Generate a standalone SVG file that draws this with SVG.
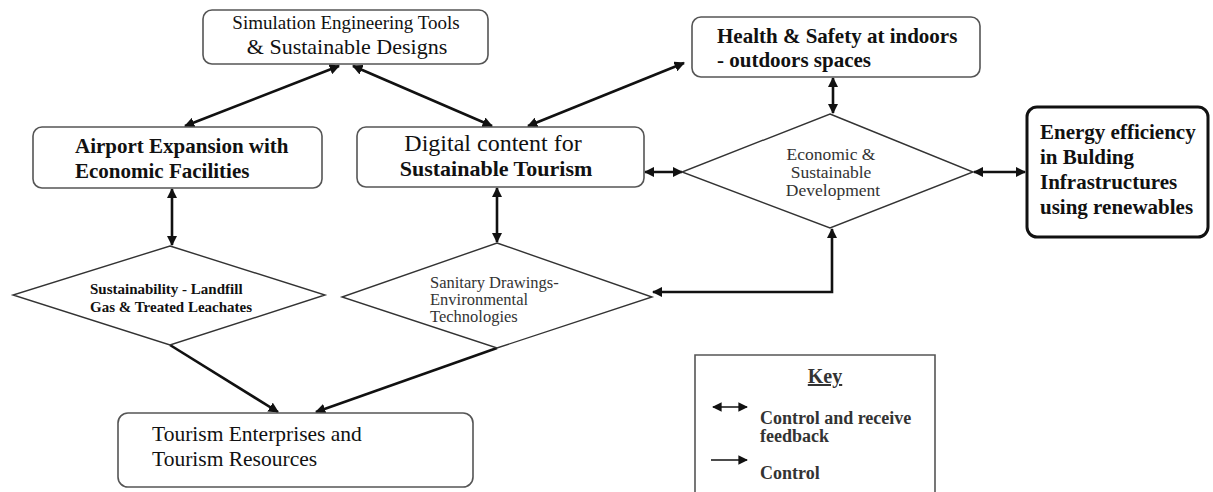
<svg xmlns="http://www.w3.org/2000/svg" width="1213" height="492" viewBox="0 0 1213 492">
<style>
.box{fill:#fff;stroke:#555;stroke-width:1.6}
.thick{fill:#fff;stroke:#111;stroke-width:3}
.dia{fill:#fff;stroke:#333;stroke-width:1.4}
.t{font-family:"Liberation Serif","Times New Roman",serif;fill:#111}
.b{font-weight:bold}
.g{fill:#333}
.c{fill:none;stroke:#111;stroke-width:2.6}
.k{fill:none;stroke:#111;stroke-width:1.6}
</style>
<defs>
<marker id="ah" viewBox="0 0 10 10" refX="9" refY="5" markerWidth="4" markerHeight="4" orient="auto-start-reverse" markerUnits="strokeWidth">
<path d="M0,0 L10,5 L0,10 z" fill="#111"/>
</marker>
<marker id="ahk" viewBox="0 0 10 10" refX="9" refY="5" markerWidth="6" markerHeight="6" orient="auto-start-reverse" markerUnits="strokeWidth">
<path d="M0,0 L10,5 L0,10 z" fill="#111"/>
</marker>
</defs>
<rect width="1213" height="492" fill="#fff"/>
<g id="connectors">
<line class="c" x1="339" y1="66" x2="185" y2="126" marker-start="url(#ah)" marker-end="url(#ah)"/>
<line class="c" x1="353" y1="66" x2="492" y2="126" marker-start="url(#ah)" marker-end="url(#ah)"/>
<line class="c" x1="528" y1="126" x2="684" y2="63" marker-start="url(#ah)" marker-end="url(#ah)"/>
<line class="c" x1="833" y1="78" x2="833" y2="113" marker-start="url(#ah)" marker-end="url(#ah)"/>
<line class="c" x1="172" y1="189" x2="172" y2="245" marker-start="url(#ah)" marker-end="url(#ah)"/>
<line class="c" x1="497" y1="188" x2="497" y2="242" marker-start="url(#ah)" marker-end="url(#ah)"/>
<line class="c" x1="645" y1="172" x2="682" y2="172" marker-start="url(#ah)" marker-end="url(#ah)"/>
<line class="c" x1="974" y1="172" x2="1025" y2="172" marker-start="url(#ah)" marker-end="url(#ah)"/>
<polyline class="c" points="832,229 832,292 653,292" marker-start="url(#ah)" marker-end="url(#ah)"/>
<line class="c" x1="170" y1="345" x2="278" y2="412" marker-end="url(#ah)"/>
<line class="c" x1="497" y1="348" x2="316" y2="412" marker-end="url(#ah)"/>
</g>
<g id="simulation">
<rect class="box" x="203" y="10" width="285" height="54" rx="9"/>
<text class="t" x="346" y="29" font-size="19" text-anchor="middle">Simulation Engineering Tools</text>
<text class="t" x="347" y="54" font-size="22" text-anchor="middle">&amp; Sustainable Designs</text>
</g>
<g id="health">
<rect class="box" x="692" y="17" width="288" height="60" rx="9"/>
<text class="t b" x="717" y="43" font-size="21">Health &amp; Safety at indoors</text>
<text class="t b" x="717" y="67" font-size="21">- outdoors spaces</text>
</g>
<g id="airport">
<rect class="box" x="33" y="127" width="289" height="61" rx="9"/>
<text class="t b" x="75" y="153" font-size="21">Airport Expansion with</text>
<text class="t b" x="75" y="178" font-size="21">Economic Facilities</text>
</g>
<g id="digital">
<rect class="box" x="357" y="127" width="287" height="60" rx="9"/>
<text class="t" x="493" y="151" font-size="24" text-anchor="middle">Digital content for</text>
<text class="t b" x="496" y="176" font-size="22" text-anchor="middle">Sustainable Tourism</text>
</g>
<g id="economic">
<polygon class="dia" points="830,114 973,172 830,228 682,172"/>
<text class="t g" x="831" y="160" font-size="17.5" text-anchor="middle">Economic &amp;</text>
<text class="t g" x="831" y="178" font-size="17.5" text-anchor="middle">Sustainable</text>
<text class="t g" x="833" y="196" font-size="17.5" text-anchor="middle">Development</text>
</g>
<g id="energy">
<rect class="thick" x="1027" y="107" width="181" height="130" rx="10"/>
<text class="t b" x="1040" y="139" font-size="21">Energy efficiency</text>
<text class="t b" x="1040" y="164" font-size="21">in Bulding</text>
<text class="t b" x="1040" y="189" font-size="21">Infrastructures</text>
<text class="t b" x="1040" y="214" font-size="21">using renewables</text>
</g>
<g id="sustainability">
<polygon class="dia" points="170,246 325,295 170,345 13,295"/>
<text class="t b" x="90" y="294" font-size="15">Sustainability  - Landfill</text>
<text class="t b" x="90" y="312" font-size="15">Gas &amp; Treated Leachates</text>
</g>
<g id="sanitary">
<polygon class="dia" points="497,243 652,297 497,348 342,297"/>
<text class="t g" x="430" y="288" font-size="16.5">Sanitary Drawings-</text>
<text class="t g" x="430" y="305" font-size="16.5">Environmental</text>
<text class="t g" x="430" y="322" font-size="16.5">Technologies</text>
</g>
<g id="tourism">
<rect class="box" x="118" y="413" width="355" height="74" rx="10"/>
<text class="t" x="152" y="441" font-size="21.5">Tourism Enterprises and</text>
<text class="t" x="152" y="466" font-size="21.5">Tourism Resources</text>
</g>
<g id="key">
<path d="M695,495 L695,355 L935,355 L935,495" fill="#fff" stroke="#555" stroke-width="1.6"/>
<text class="t b g" x="825" y="383" font-size="20" text-anchor="middle" text-decoration="underline">Key</text>
<line class="k" x1="713" y1="407" x2="747" y2="407" marker-start="url(#ahk)" marker-end="url(#ahk)"/>
<text class="t b g" x="760" y="424" font-size="18">Control and receive</text>
<text class="t b g" x="760" y="442" font-size="18">feedback</text>
<line class="k" x1="711" y1="460" x2="747" y2="460" marker-end="url(#ahk)"/>
<text class="t b g" x="760" y="479" font-size="18">Control</text>
</g>
</svg>
